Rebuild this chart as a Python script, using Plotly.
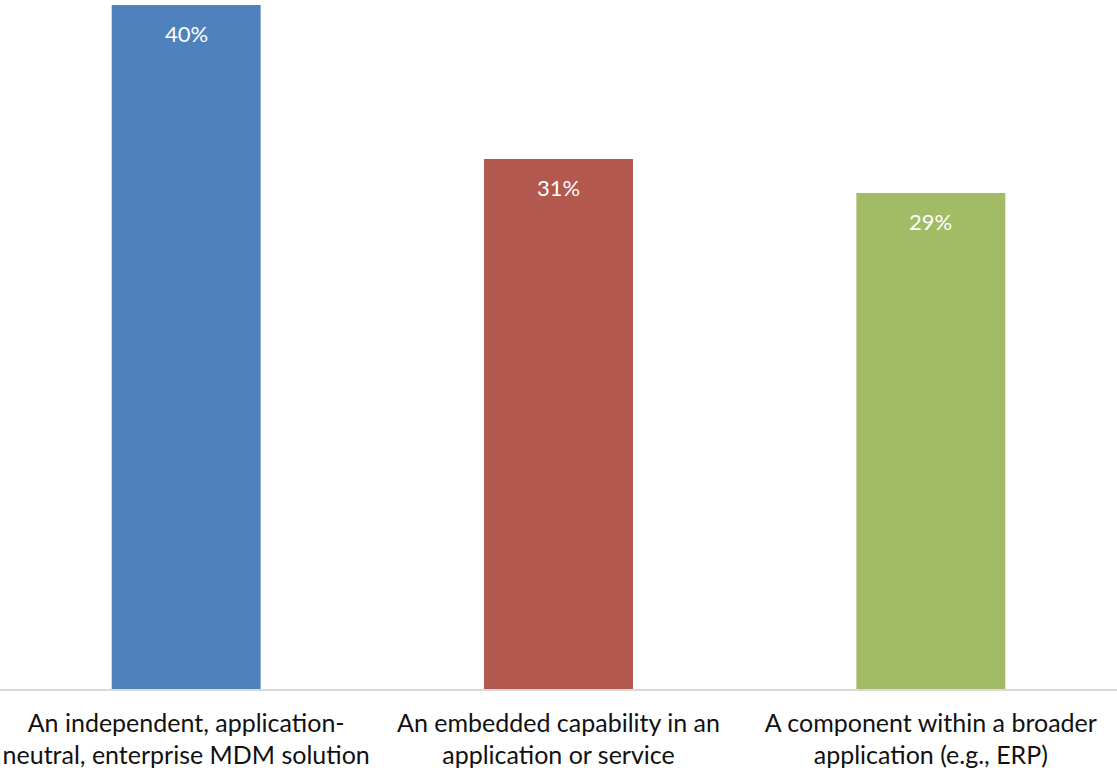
import plotly.graph_objects as go

# Survey responses: preferred form of MDM deployment
categories = [
    "An independent, application-<br>neutral, enterprise MDM solution",
    "An embedded capability in an<br>application or service",
    "A component within a broader<br>application (e.g., ERP)",
]
shares = [40, 31, 29]
bar_colors = ["#4F81BD", "#B3584F", "#A2BB65"]

fig = go.Figure(
    go.Bar(
        x=categories,
        y=shares,
        marker=dict(color=bar_colors, line=dict(width=0)),
        hoverinfo="skip",
    )
)

# Value labels inside the top of each bar
for cat, val in zip(categories, shares):
    fig.add_annotation(
        x=cat, y=val, text=f"{val}%", showarrow=False,
        yanchor="top", yshift=-13,
        font=dict(family="Lato, Open Sans, sans-serif", size=22, color="white"),
    )

fig.update_layout(
    width=1117, height=770,
    margin=dict(l=0, r=0, t=5, b=81),
    paper_bgcolor="white", plot_bgcolor="white",
    bargap=0.6,
    showlegend=False,
    font=dict(family="Lato, Open Sans, sans-serif", size=25, color="#111111"),
)
fig.update_xaxes(
    showline=True, linecolor="#D9D9D9", linewidth=1.5,
    ticks="", showgrid=False, ticklabelstandoff=11,
    tickfont=dict(size=25, color="#111111"),
)
fig.update_yaxes(range=[0, 40], visible=False, showgrid=False)

fig.write_html("out.html")
